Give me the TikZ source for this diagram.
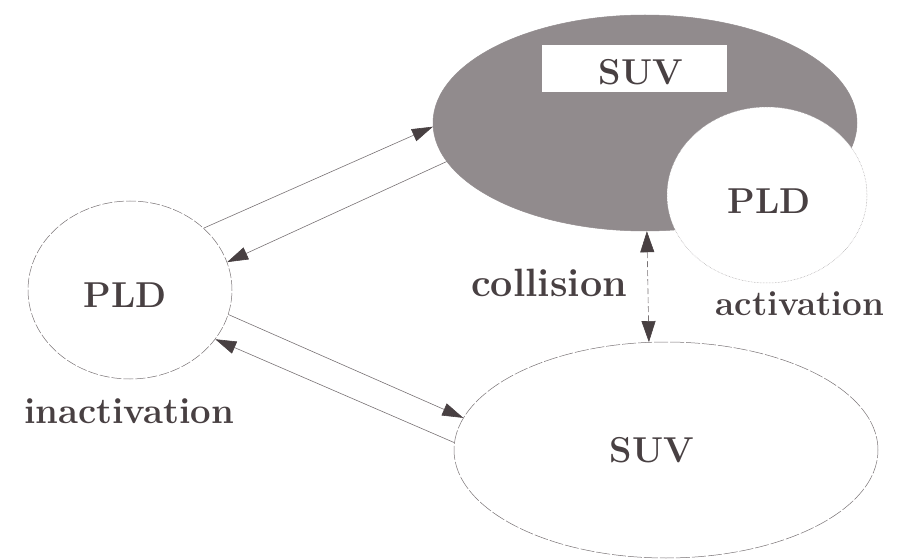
\documentclass[tikz,border=0pt]{standalone}
\usetikzlibrary{shapes.geometric,arrows.meta}
\definecolor{inkc}{RGB}{72,64,66}
\definecolor{linec}{RGB}{120,114,116}
\definecolor{stipple}{RGB}{145,139,141}
\begin{document}
\begin{tikzpicture}[x=1pt,y=-1pt,
  blob/.style={ellipse,draw=linec,line width=0.5pt,inner sep=0pt},
  lbl/.style={text=inkc,font=\fontsize{35}{40}\selectfont\bfseries,inner sep=0pt},
  big/.style={text=inkc,font=\fontsize{36}{42}\selectfont\bfseries,inner sep=0pt},
  conn/.style={draw=linec,line width=0.6pt,-{Triangle[length=21pt,width=13pt,color=inkc]}},
  dconn/.style={draw=linec,line width=0.6pt,dash pattern=on 6pt off 3pt,
    {Triangle[length=21pt,width=14pt,color=inkc]}-{Triangle[length=21pt,width=14pt,color=inkc]}}
]
\useasboundingbox (0,0) rectangle (898,559);
% top SUV ellipse
\node[blob,fill=stipple,draw=stipple,minimum width=424pt,minimum height=216pt] (tsuv) at (645,123) {};
\node[fill=white,minimum width=185pt,minimum height=47pt,inner sep=0pt] (tbox) at (634.5,68.5) {};
\node[big] (tsuvt) at (641,72) {SUV};
% small PLD circle
\node[blob,fill=white,draw=linec!70,densely dotted,minimum width=200pt,minimum height=176pt] (spld) at (767,195) {};
\node[big] (spldt) at (769,201) {PLD};
% left PLD circle
\node[blob,dash pattern=on 10pt off 2pt,minimum width=204pt,minimum height=178pt] (lpld) at (130,290) {};
\node[big] (lpldt) at (125,295) {PLD};
% bottom SUV ellipse
\node[blob,dash pattern=on 14pt off 2pt,minimum width=424pt,minimum height=216pt] (bsuv) at (666,450) {};
\node[big] (bsuvt) at (652,450) {SUV};
% labels
\node[lbl,font=\fontsize{39.5}{44}\selectfont\bfseries,anchor=base] (coll) at (549,297) {collision};
\node[lbl,anchor=base] (act) at (800,316) {activation};
\node[lbl,font=\fontsize{36.5}{42}\selectfont\bfseries,anchor=base] (inact) at (129,423) {inactivation};
% connectors
\draw[conn] (lpld.40) -- (tsuv.181.5);
\draw[conn] (tsuv.191) -- (lpld.16.5);
\draw[conn] (lpld.-14.7) -- (bsuv.171);
\draw[conn] (bsuv.178) -- (lpld.-30.6);
\draw[dconn] (tsuv.271.5) -- (bsuv.99.6);
\end{tikzpicture}
\end{document}
